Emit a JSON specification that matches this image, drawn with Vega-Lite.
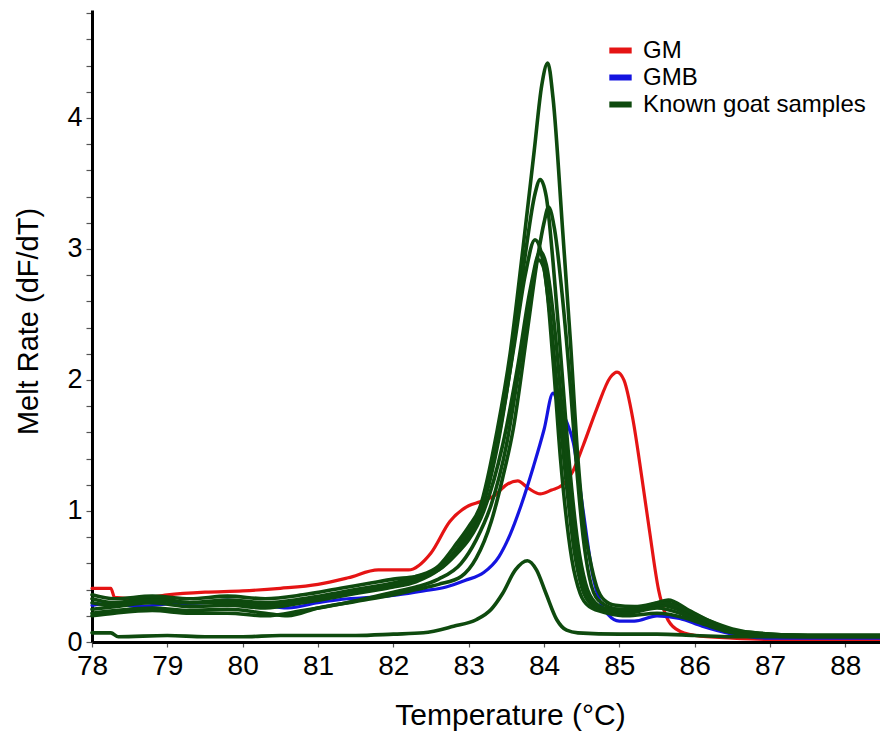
{
  "$schema": "https://vega.github.io/schema/vega-lite/v6.json",
  "width": 788,
  "height": 632,
  "autosize": {"type": "none"},
  "padding": {"left": 92, "top": 10, "right": 0, "bottom": 90},
  "background": "white",
  "config": {
    "view": {"stroke": null},
    "font": "Liberation Sans",
    "axis": {"grid": false, "domainColor": "black", "domainWidth": 3, "tickColor": "#555555", "tickWidth": 1.2, "labelColor": "black", "titleColor": "black", "labelFont": "Liberation Sans", "titleFont": "Liberation Sans", "titleFontWeight": "normal", "labelOverlap": false}
  },
  "datasets": {
    "ref": [
      {"s":"GM","g":"GM","t":78,"v":0.41},{"s":"GM","g":"GM","t":78.25,"v":0.41},{"s":"GM","g":"GM","t":78.3,"v":0.34},{"s":"GM","g":"GM","t":78.6,"v":0.33},{"s":"GM","g":"GM","t":79.0,"v":0.36},{"s":"GM","g":"GM","t":79.5,"v":0.38},{"s":"GM","g":"GM","t":80.0,"v":0.39},{"s":"GM","g":"GM","t":80.5,"v":0.41},{"s":"GM","g":"GM","t":81.0,"v":0.44},{"s":"GM","g":"GM","t":81.4,"v":0.49},{"s":"GM","g":"GM","t":81.8,"v":0.55},{"s":"GM","g":"GM","t":82.2,"v":0.55},{"s":"GM","g":"GM","t":82.5,"v":0.68},{"s":"GM","g":"GM","t":82.75,"v":0.92},{"s":"GM","g":"GM","t":83.0,"v":1.04},{"s":"GM","g":"GM","t":83.15,"v":1.07},{"s":"GM","g":"GM","t":83.35,"v":1.12},{"s":"GM","g":"GM","t":83.5,"v":1.2},{"s":"GM","g":"GM","t":83.65,"v":1.23},{"s":"GM","g":"GM","t":83.8,"v":1.17},{"s":"GM","g":"GM","t":83.95,"v":1.13},{"s":"GM","g":"GM","t":84.1,"v":1.16},{"s":"GM","g":"GM","t":84.25,"v":1.2},{"s":"GM","g":"GM","t":84.38,"v":1.3},{"s":"GM","g":"GM","t":84.52,"v":1.5},{"s":"GM","g":"GM","t":84.7,"v":1.78},{"s":"GM","g":"GM","t":84.88,"v":2.02},{"s":"GM","g":"GM","t":84.97,"v":2.06},{"s":"GM","g":"GM","t":85.06,"v":2.0},{"s":"GM","g":"GM","t":85.18,"v":1.7},{"s":"GM","g":"GM","t":85.3,"v":1.25},{"s":"GM","g":"GM","t":85.4,"v":0.85},{"s":"GM","g":"GM","t":85.52,"v":0.4},{"s":"GM","g":"GM","t":85.62,"v":0.2},{"s":"GM","g":"GM","t":85.75,"v":0.1},{"s":"GM","g":"GM","t":86.0,"v":0.05},{"s":"GM","g":"GM","t":86.5,"v":0.03},{"s":"GM","g":"GM","t":87.0,"v":0.02},{"s":"GM","g":"GM","t":88.0,"v":0.02},{"s":"GM","g":"GM","t":88.46,"v":0.02},
      {"s":"GMB","g":"GMB","t":78,"v":0.28},{"s":"GMB","g":"GMB","t":78.3,"v":0.3},{"s":"GMB","g":"GMB","t":78.6,"v":0.27},{"s":"GMB","g":"GMB","t":79.0,"v":0.29},{"s":"GMB","g":"GMB","t":79.5,"v":0.3},{"s":"GMB","g":"GMB","t":79.8,"v":0.32},{"s":"GMB","g":"GMB","t":80.2,"v":0.29},{"s":"GMB","g":"GMB","t":80.6,"v":0.26},{"s":"GMB","g":"GMB","t":81.0,"v":0.3},{"s":"GMB","g":"GMB","t":81.4,"v":0.33},{"s":"GMB","g":"GMB","t":81.7,"v":0.34},{"s":"GMB","g":"GMB","t":82.05,"v":0.36},{"s":"GMB","g":"GMB","t":82.4,"v":0.39},{"s":"GMB","g":"GMB","t":82.7,"v":0.42},{"s":"GMB","g":"GMB","t":82.95,"v":0.47},{"s":"GMB","g":"GMB","t":83.2,"v":0.53},{"s":"GMB","g":"GMB","t":83.4,"v":0.65},{"s":"GMB","g":"GMB","t":83.55,"v":0.82},{"s":"GMB","g":"GMB","t":83.7,"v":1.05},{"s":"GMB","g":"GMB","t":83.86,"v":1.34},{"s":"GMB","g":"GMB","t":84.0,"v":1.62},{"s":"GMB","g":"GMB","t":84.12,"v":1.9},{"s":"GMB","g":"GMB","t":84.2,"v":1.8},{"s":"GMB","g":"GMB","t":84.3,"v":1.68},{"s":"GMB","g":"GMB","t":84.39,"v":1.52},{"s":"GMB","g":"GMB","t":84.52,"v":1.0},{"s":"GMB","g":"GMB","t":84.65,"v":0.5},{"s":"GMB","g":"GMB","t":84.75,"v":0.3},{"s":"GMB","g":"GMB","t":84.85,"v":0.21},{"s":"GMB","g":"GMB","t":85.0,"v":0.16},{"s":"GMB","g":"GMB","t":85.2,"v":0.16},{"s":"GMB","g":"GMB","t":85.5,"v":0.2},{"s":"GMB","g":"GMB","t":85.8,"v":0.18},{"s":"GMB","g":"GMB","t":86.1,"v":0.12},{"s":"GMB","g":"GMB","t":86.5,"v":0.06},{"s":"GMB","g":"GMB","t":87.0,"v":0.03},{"s":"GMB","g":"GMB","t":88.46,"v":0.03}
    ],
    "goat": [
      {"s":"G1","g":"Known goat samples","t":78,"v":0.33},{"s":"G1","g":"Known goat samples","t":78.3,"v":0.3},{"s":"G1","g":"Known goat samples","t":78.8,"v":0.34},{"s":"G1","g":"Known goat samples","t":79.3,"v":0.3},{"s":"G1","g":"Known goat samples","t":79.8,"v":0.32},{"s":"G1","g":"Known goat samples","t":80.3,"v":0.3},{"s":"G1","g":"Known goat samples","t":80.8,"v":0.33},{"s":"G1","g":"Known goat samples","t":81.3,"v":0.38},{"s":"G1","g":"Known goat samples","t":81.7,"v":0.42},{"s":"G1","g":"Known goat samples","t":82.0,"v":0.45},{"s":"G1","g":"Known goat samples","t":82.3,"v":0.5},{"s":"G1","g":"Known goat samples","t":82.6,"v":0.58},{"s":"G1","g":"Known goat samples","t":82.85,"v":0.76},{"s":"G1","g":"Known goat samples","t":83.0,"v":0.88},{"s":"G1","g":"Known goat samples","t":83.15,"v":1.03},{"s":"G1","g":"Known goat samples","t":83.38,"v":1.62},{"s":"G1","g":"Known goat samples","t":83.55,"v":2.2},{"s":"G1","g":"Known goat samples","t":83.72,"v":3.0},{"s":"G1","g":"Known goat samples","t":83.87,"v":3.75},{"s":"G1","g":"Known goat samples","t":83.97,"v":4.25},{"s":"G1","g":"Known goat samples","t":84.05,"v":4.42},{"s":"G1","g":"Known goat samples","t":84.12,"v":4.15},{"s":"G1","g":"Known goat samples","t":84.25,"v":3.12},{"s":"G1","g":"Known goat samples","t":84.35,"v":2.3},{"s":"G1","g":"Known goat samples","t":84.45,"v":1.4},{"s":"G1","g":"Known goat samples","t":84.53,"v":0.9},{"s":"G1","g":"Known goat samples","t":84.61,"v":0.63},{"s":"G1","g":"Known goat samples","t":84.7,"v":0.42},{"s":"G1","g":"Known goat samples","t":84.8,"v":0.32},{"s":"G1","g":"Known goat samples","t":84.95,"v":0.28},{"s":"G1","g":"Known goat samples","t":85.2,"v":0.27},{"s":"G1","g":"Known goat samples","t":85.5,"v":0.3},{"s":"G1","g":"Known goat samples","t":85.65,"v":0.32},{"s":"G1","g":"Known goat samples","t":85.9,"v":0.25},{"s":"G1","g":"Known goat samples","t":86.2,"v":0.16},{"s":"G1","g":"Known goat samples","t":86.5,"v":0.09},{"s":"G1","g":"Known goat samples","t":86.8,"v":0.06},{"s":"G1","g":"Known goat samples","t":87.5,"v":0.05},{"s":"G1","g":"Known goat samples","t":88.46,"v":0.05},
      {"s":"G2","g":"Known goat samples","t":78,"v":0.25},{"s":"G2","g":"Known goat samples","t":78.3,"v":0.27},{"s":"G2","g":"Known goat samples","t":78.8,"v":0.3},{"s":"G2","g":"Known goat samples","t":79.3,"v":0.27},{"s":"G2","g":"Known goat samples","t":79.8,"v":0.28},{"s":"G2","g":"Known goat samples","t":80.3,"v":0.26},{"s":"G2","g":"Known goat samples","t":80.8,"v":0.3},{"s":"G2","g":"Known goat samples","t":81.3,"v":0.35},{"s":"G2","g":"Known goat samples","t":81.7,"v":0.39},{"s":"G2","g":"Known goat samples","t":82.0,"v":0.42},{"s":"G2","g":"Known goat samples","t":82.3,"v":0.46},{"s":"G2","g":"Known goat samples","t":82.6,"v":0.55},{"s":"G2","g":"Known goat samples","t":82.85,"v":0.7},{"s":"G2","g":"Known goat samples","t":83.0,"v":0.82},{"s":"G2","g":"Known goat samples","t":83.15,"v":0.98},{"s":"G2","g":"Known goat samples","t":83.4,"v":1.55},{"s":"G2","g":"Known goat samples","t":83.58,"v":2.2},{"s":"G2","g":"Known goat samples","t":83.75,"v":2.95},{"s":"G2","g":"Known goat samples","t":83.88,"v":3.42},{"s":"G2","g":"Known goat samples","t":83.95,"v":3.53},{"s":"G2","g":"Known goat samples","t":84.03,"v":3.4},{"s":"G2","g":"Known goat samples","t":84.12,"v":2.9},{"s":"G2","g":"Known goat samples","t":84.22,"v":2.2},{"s":"G2","g":"Known goat samples","t":84.33,"v":1.4},{"s":"G2","g":"Known goat samples","t":84.45,"v":0.75},{"s":"G2","g":"Known goat samples","t":84.55,"v":0.45},{"s":"G2","g":"Known goat samples","t":84.68,"v":0.3},{"s":"G2","g":"Known goat samples","t":84.9,"v":0.24},{"s":"G2","g":"Known goat samples","t":85.2,"v":0.24},{"s":"G2","g":"Known goat samples","t":85.55,"v":0.28},{"s":"G2","g":"Known goat samples","t":85.9,"v":0.22},{"s":"G2","g":"Known goat samples","t":86.2,"v":0.14},{"s":"G2","g":"Known goat samples","t":86.5,"v":0.08},{"s":"G2","g":"Known goat samples","t":86.8,"v":0.06},{"s":"G2","g":"Known goat samples","t":87.5,"v":0.05},{"s":"G2","g":"Known goat samples","t":88.46,"v":0.05},
      {"s":"G3","g":"Known goat samples","t":78,"v":0.22},{"s":"G3","g":"Known goat samples","t":78.3,"v":0.24},{"s":"G3","g":"Known goat samples","t":78.8,"v":0.26},{"s":"G3","g":"Known goat samples","t":79.3,"v":0.24},{"s":"G3","g":"Known goat samples","t":79.8,"v":0.25},{"s":"G3","g":"Known goat samples","t":80.3,"v":0.22},{"s":"G3","g":"Known goat samples","t":80.6,"v":0.2},{"s":"G3","g":"Known goat samples","t":81.0,"v":0.26},{"s":"G3","g":"Known goat samples","t":81.5,"v":0.31},{"s":"G3","g":"Known goat samples","t":82.0,"v":0.36},{"s":"G3","g":"Known goat samples","t":82.3,"v":0.4},{"s":"G3","g":"Known goat samples","t":82.6,"v":0.44},{"s":"G3","g":"Known goat samples","t":82.9,"v":0.5},{"s":"G3","g":"Known goat samples","t":83.1,"v":0.64},{"s":"G3","g":"Known goat samples","t":83.3,"v":0.92},{"s":"G3","g":"Known goat samples","t":83.45,"v":1.25},{"s":"G3","g":"Known goat samples","t":83.59,"v":1.62},{"s":"G3","g":"Known goat samples","t":83.78,"v":2.38},{"s":"G3","g":"Known goat samples","t":83.92,"v":2.95},{"s":"G3","g":"Known goat samples","t":84.0,"v":3.2},{"s":"G3","g":"Known goat samples","t":84.06,"v":3.32},{"s":"G3","g":"Known goat samples","t":84.14,"v":3.15},{"s":"G3","g":"Known goat samples","t":84.25,"v":2.6},{"s":"G3","g":"Known goat samples","t":84.35,"v":1.95},{"s":"G3","g":"Known goat samples","t":84.43,"v":1.35},{"s":"G3","g":"Known goat samples","t":84.52,"v":0.8},{"s":"G3","g":"Known goat samples","t":84.6,"v":0.5},{"s":"G3","g":"Known goat samples","t":84.72,"v":0.32},{"s":"G3","g":"Known goat samples","t":85.0,"v":0.25},{"s":"G3","g":"Known goat samples","t":85.3,"v":0.25},{"s":"G3","g":"Known goat samples","t":85.6,"v":0.3},{"s":"G3","g":"Known goat samples","t":85.9,"v":0.24},{"s":"G3","g":"Known goat samples","t":86.2,"v":0.16},{"s":"G3","g":"Known goat samples","t":86.5,"v":0.1},{"s":"G3","g":"Known goat samples","t":86.8,"v":0.07},{"s":"G3","g":"Known goat samples","t":87.5,"v":0.05},{"s":"G3","g":"Known goat samples","t":88.46,"v":0.05},
      {"s":"G4","g":"Known goat samples","t":78,"v":0.3},{"s":"G4","g":"Known goat samples","t":78.3,"v":0.28},{"s":"G4","g":"Known goat samples","t":78.8,"v":0.32},{"s":"G4","g":"Known goat samples","t":79.3,"v":0.3},{"s":"G4","g":"Known goat samples","t":79.8,"v":0.3},{"s":"G4","g":"Known goat samples","t":80.3,"v":0.28},{"s":"G4","g":"Known goat samples","t":80.8,"v":0.31},{"s":"G4","g":"Known goat samples","t":81.3,"v":0.37},{"s":"G4","g":"Known goat samples","t":81.7,"v":0.41},{"s":"G4","g":"Known goat samples","t":82.0,"v":0.44},{"s":"G4","g":"Known goat samples","t":82.3,"v":0.48},{"s":"G4","g":"Known goat samples","t":82.6,"v":0.56},{"s":"G4","g":"Known goat samples","t":82.85,"v":0.72},{"s":"G4","g":"Known goat samples","t":83.0,"v":0.86},{"s":"G4","g":"Known goat samples","t":83.15,"v":1.0},{"s":"G4","g":"Known goat samples","t":83.4,"v":1.58},{"s":"G4","g":"Known goat samples","t":83.6,"v":2.25},{"s":"G4","g":"Known goat samples","t":83.75,"v":2.8},{"s":"G4","g":"Known goat samples","t":83.88,"v":3.07},{"s":"G4","g":"Known goat samples","t":83.95,"v":3.0},{"s":"G4","g":"Known goat samples","t":84.08,"v":2.5},{"s":"G4","g":"Known goat samples","t":84.18,"v":1.9},{"s":"G4","g":"Known goat samples","t":84.28,"v":1.3},{"s":"G4","g":"Known goat samples","t":84.4,"v":0.7},{"s":"G4","g":"Known goat samples","t":84.5,"v":0.42},{"s":"G4","g":"Known goat samples","t":84.62,"v":0.29},{"s":"G4","g":"Known goat samples","t":84.8,"v":0.24},{"s":"G4","g":"Known goat samples","t":85.1,"v":0.22},{"s":"G4","g":"Known goat samples","t":85.5,"v":0.26},{"s":"G4","g":"Known goat samples","t":85.9,"v":0.2},{"s":"G4","g":"Known goat samples","t":86.2,"v":0.13},{"s":"G4","g":"Known goat samples","t":86.5,"v":0.08},{"s":"G4","g":"Known goat samples","t":86.8,"v":0.06},{"s":"G4","g":"Known goat samples","t":87.5,"v":0.05},{"s":"G4","g":"Known goat samples","t":88.46,"v":0.05},
      {"s":"G5","g":"Known goat samples","t":78,"v":0.36},{"s":"G5","g":"Known goat samples","t":78.3,"v":0.33},{"s":"G5","g":"Known goat samples","t":78.8,"v":0.35},{"s":"G5","g":"Known goat samples","t":79.3,"v":0.33},{"s":"G5","g":"Known goat samples","t":79.8,"v":0.35},{"s":"G5","g":"Known goat samples","t":80.3,"v":0.33},{"s":"G5","g":"Known goat samples","t":80.8,"v":0.36},{"s":"G5","g":"Known goat samples","t":81.3,"v":0.41},{"s":"G5","g":"Known goat samples","t":81.7,"v":0.45},{"s":"G5","g":"Known goat samples","t":82.0,"v":0.48},{"s":"G5","g":"Known goat samples","t":82.3,"v":0.5},{"s":"G5","g":"Known goat samples","t":82.6,"v":0.55},{"s":"G5","g":"Known goat samples","t":82.85,"v":0.68},{"s":"G5","g":"Known goat samples","t":83.0,"v":0.78},{"s":"G5","g":"Known goat samples","t":83.2,"v":1.0},{"s":"G5","g":"Known goat samples","t":83.45,"v":1.5},{"s":"G5","g":"Known goat samples","t":83.65,"v":2.1},{"s":"G5","g":"Known goat samples","t":83.82,"v":2.7},{"s":"G5","g":"Known goat samples","t":83.95,"v":2.98},{"s":"G5","g":"Known goat samples","t":84.03,"v":2.88},{"s":"G5","g":"Known goat samples","t":84.15,"v":2.35},{"s":"G5","g":"Known goat samples","t":84.25,"v":1.7},{"s":"G5","g":"Known goat samples","t":84.35,"v":1.1},{"s":"G5","g":"Known goat samples","t":84.45,"v":0.65},{"s":"G5","g":"Known goat samples","t":84.55,"v":0.4},{"s":"G5","g":"Known goat samples","t":84.67,"v":0.29},{"s":"G5","g":"Known goat samples","t":84.9,"v":0.25},{"s":"G5","g":"Known goat samples","t":85.2,"v":0.25},{"s":"G5","g":"Known goat samples","t":85.55,"v":0.3},{"s":"G5","g":"Known goat samples","t":85.9,"v":0.24},{"s":"G5","g":"Known goat samples","t":86.2,"v":0.15},{"s":"G5","g":"Known goat samples","t":86.5,"v":0.09},{"s":"G5","g":"Known goat samples","t":86.8,"v":0.07},{"s":"G5","g":"Known goat samples","t":87.5,"v":0.05},{"s":"G5","g":"Known goat samples","t":88.46,"v":0.05},
      {"s":"G6","g":"Known goat samples","t":78,"v":0.2},{"s":"G6","g":"Known goat samples","t":78.3,"v":0.22},{"s":"G6","g":"Known goat samples","t":78.8,"v":0.24},{"s":"G6","g":"Known goat samples","t":79.3,"v":0.22},{"s":"G6","g":"Known goat samples","t":79.8,"v":0.22},{"s":"G6","g":"Known goat samples","t":80.3,"v":0.2},{"s":"G6","g":"Known goat samples","t":80.8,"v":0.24},{"s":"G6","g":"Known goat samples","t":81.3,"v":0.29},{"s":"G6","g":"Known goat samples","t":81.7,"v":0.34},{"s":"G6","g":"Known goat samples","t":82.0,"v":0.38},{"s":"G6","g":"Known goat samples","t":82.3,"v":0.42},{"s":"G6","g":"Known goat samples","t":82.6,"v":0.48},{"s":"G6","g":"Known goat samples","t":82.9,"v":0.6},{"s":"G6","g":"Known goat samples","t":83.1,"v":0.78},{"s":"G6","g":"Known goat samples","t":83.3,"v":1.05},{"s":"G6","g":"Known goat samples","t":83.5,"v":1.5},{"s":"G6","g":"Known goat samples","t":83.7,"v":2.2},{"s":"G6","g":"Known goat samples","t":83.85,"v":2.75},{"s":"G6","g":"Known goat samples","t":83.92,"v":2.92},{"s":"G6","g":"Known goat samples","t":84.0,"v":2.85},{"s":"G6","g":"Known goat samples","t":84.12,"v":2.15},{"s":"G6","g":"Known goat samples","t":84.22,"v":1.39},{"s":"G6","g":"Known goat samples","t":84.37,"v":0.63},{"s":"G6","g":"Known goat samples","t":84.48,"v":0.37},{"s":"G6","g":"Known goat samples","t":84.6,"v":0.27},{"s":"G6","g":"Known goat samples","t":84.85,"v":0.22},{"s":"G6","g":"Known goat samples","t":85.1,"v":0.2},{"s":"G6","g":"Known goat samples","t":85.5,"v":0.22},{"s":"G6","g":"Known goat samples","t":85.9,"v":0.18},{"s":"G6","g":"Known goat samples","t":86.2,"v":0.12},{"s":"G6","g":"Known goat samples","t":86.5,"v":0.07},{"s":"G6","g":"Known goat samples","t":86.8,"v":0.05},{"s":"G6","g":"Known goat samples","t":87.5,"v":0.04},{"s":"G6","g":"Known goat samples","t":88.46,"v":0.04},
      {"s":"G0","g":"Known goat samples","t":78,"v":0.07},{"s":"G0","g":"Known goat samples","t":78.25,"v":0.07},{"s":"G0","g":"Known goat samples","t":78.35,"v":0.04},{"s":"G0","g":"Known goat samples","t":79.0,"v":0.05},{"s":"G0","g":"Known goat samples","t":79.5,"v":0.04},{"s":"G0","g":"Known goat samples","t":80.0,"v":0.04},{"s":"G0","g":"Known goat samples","t":80.5,"v":0.05},{"s":"G0","g":"Known goat samples","t":81.0,"v":0.05},{"s":"G0","g":"Known goat samples","t":81.5,"v":0.05},{"s":"G0","g":"Known goat samples","t":82.0,"v":0.06},{"s":"G0","g":"Known goat samples","t":82.4,"v":0.07},{"s":"G0","g":"Known goat samples","t":82.8,"v":0.12},{"s":"G0","g":"Known goat samples","t":83.1,"v":0.17},{"s":"G0","g":"Known goat samples","t":83.3,"v":0.25},{"s":"G0","g":"Known goat samples","t":83.45,"v":0.37},{"s":"G0","g":"Known goat samples","t":83.62,"v":0.55},{"s":"G0","g":"Known goat samples","t":83.78,"v":0.62},{"s":"G0","g":"Known goat samples","t":83.9,"v":0.55},{"s":"G0","g":"Known goat samples","t":84.02,"v":0.38},{"s":"G0","g":"Known goat samples","t":84.17,"v":0.17},{"s":"G0","g":"Known goat samples","t":84.3,"v":0.09},{"s":"G0","g":"Known goat samples","t":84.45,"v":0.07},{"s":"G0","g":"Known goat samples","t":85.0,"v":0.06},{"s":"G0","g":"Known goat samples","t":85.5,"v":0.06},{"s":"G0","g":"Known goat samples","t":86.0,"v":0.05},{"s":"G0","g":"Known goat samples","t":86.5,"v":0.04},{"s":"G0","g":"Known goat samples","t":87.0,"v":0.04},{"s":"G0","g":"Known goat samples","t":88.46,"v":0.04}
    ]
  },
  "encoding": {
    "x": {
      "field": "t", "type": "quantitative",
      "scale": {"domain": [78, 88.46], "nice": false, "zero": false},
      "axis": {"values": [78, 79, 80, 81, 82, 83, 84, 85, 86, 87, 88], "labelFlush": false, "tickSize": 5, "labelFontSize": 28, "labelPadding": 5, "title": "Temperature (°C)", "titleFontSize": 30, "titleX": 418, "titleY": 82, "titleBaseline": "alphabetic", "titleAnchor": "middle", "titleAlign": "center"}
    },
    "y": {
      "field": "v", "type": "quantitative",
      "scale": {"domain": [0, 4.824], "nice": false, "zero": true},
      "axis": {"values": [0, 0.2, 0.4, 0.6, 0.8, 1, 1.2, 1.4, 1.6, 1.8, 2, 2.2, 2.4, 2.6, 2.8, 3, 3.2, 3.4, 3.6, 3.8, 4, 4.2, 4.4, 4.6, 4.8], "labelExpr": "datum.value % 1 === 0 ? format(datum.value, 'd') : ''", "tickSize": 6, "labelFontSize": 27, "labelPadding": 4, "title": "Melt Rate (dF/dT)", "titleFontSize": 29, "titleX": -55, "titleY": 311, "titleBaseline": "alphabetic", "titleAngle": -90, "titleAlign": "center", "labelBaseline": "middle"}
    },
    "color": {
      "field": "g", "type": "nominal",
      "scale": {"domain": ["GM", "GMB", "Known goat samples"], "range": ["#e51414", "#1414e0", "#0e4a0e"]},
      "legend": {"orient": "none", "legendX": 514, "legendY": 26, "title": null, "symbolType": "stroke", "symbolStrokeWidth": 6, "symbolSize": 500, "labelFontSize": 24, "labelFont": "Liberation Sans", "labelColor": "black", "rowPadding": 0, "labelOffset": 8, "labelLimit": 0, "labelExpr": "datum.label == 'GM' ? '\u00a0GM' : datum.label"}
    },
    "detail": {"field": "s", "type": "nominal"}
  },
  "layer": [
    {"data": {"name": "ref"}, "mark": {"type": "line", "strokeWidth": 3.2, "interpolate": "monotone", "strokeJoin": "round", "strokeCap": "round"}},
    {"data": {"name": "goat"}, "mark": {"type": "line", "strokeWidth": 3.6, "interpolate": "monotone", "strokeJoin": "round", "strokeCap": "round"}}
  ]
}
